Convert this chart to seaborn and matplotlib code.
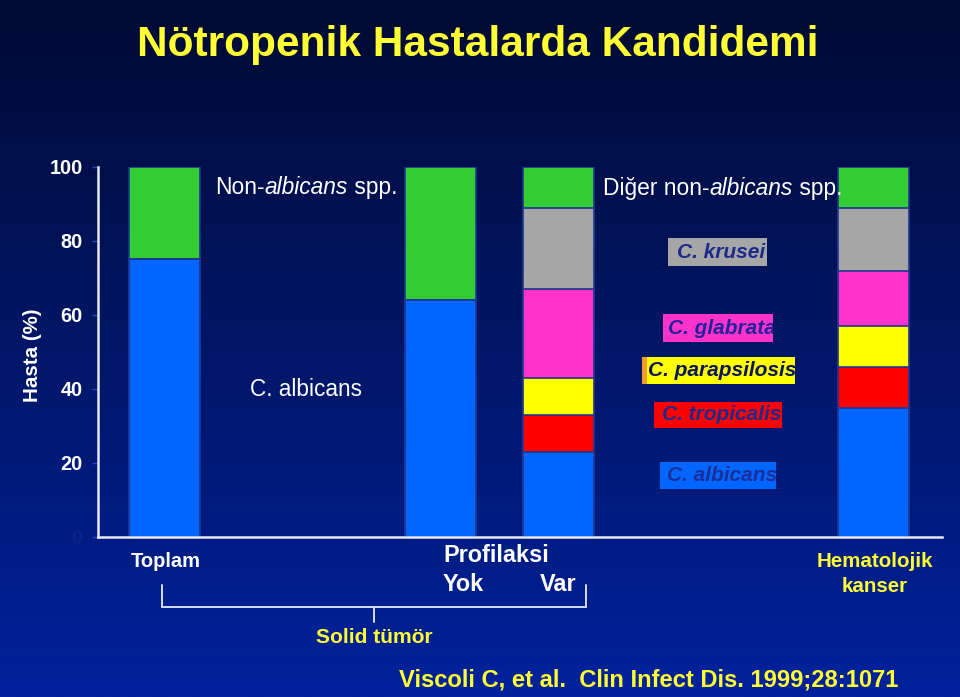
import numpy as np
import matplotlib
matplotlib.use("Agg")
import matplotlib.pyplot as plt
from matplotlib.patches import Rectangle
from matplotlib.lines import Line2D
import seaborn as sns

# ---------------- data ----------------
groups = ["Toplam", "Profilaksi yok", "Profilaksi var", "Hematolojik kanser"]
c_albicans = [75, 64, 23, 35]
c_tropicalis = [0, 0, 10, 11]
c_parapsilosis = [0, 0, 10, 11]
c_glabrata = [0, 0, 24, 15]
c_krusei = [0, 0, 22, 17]
non_albicans_other = [25, 36, 11, 11]
y_ticks = [0, 20, 40, 60, 80, 100]

# ---------------- style / layout ----------------
sns.set_theme(style="white")
plt.rcParams["font.family"] = ["Liberation Sans", "DejaVu Sans"]

W, H = 960, 697
fig = plt.figure(figsize=(9.6, 6.97), dpi=100)

def fx(x):
    return x / W

def fy(y):
    return 1 - y / H

# gradient background
bg = fig.add_axes([0, 0, 1, 1], zorder=-10)
top = np.array([0, 10, 50]) / 255
bot = np.array([0, 34, 156]) / 255
t = np.linspace(0, 1, 256)[:, None]
grad = (top[None, :] * (1 - t) + bot[None, :] * t)[:, None, :]
bg.imshow(grad, aspect="auto", extent=[0, 1, 0, 1])
bg.set_axis_off()

ax_left, ax_right, ax_top, ax_bottom = 98, 942, 167, 537
ax = fig.add_axes([fx(ax_left), fy(ax_bottom), (ax_right - ax_left) / W,
                   (ax_bottom - ax_top) / H])
ax.set_facecolor("none")

bar_pos = [164.5, 440, 558.5, 873.5]
bar_px_width = 71
min_gap = min(np.diff(sorted(bar_pos)))

layers = [
    (c_albicans, "#0066FF"),
    (c_tropicalis, "#FF0000"),
    (c_parapsilosis, "#FFFF00"),
    (c_glabrata, "#FF33CC"),
    (c_krusei, "#A6A6A6"),
    (non_albicans_other, "#33CC33"),
]
stack = np.array([l[0] for l in layers], dtype=float)
cum = np.cumsum(stack, axis=0)
for i in reversed(range(len(layers))):
    sns.barplot(x=bar_pos, y=cum[i], native_scale=True, orient="x",
                width=bar_px_width / min_gap, color=layers[i][1], saturation=1,
                edgecolor="#1c3590", linewidth=1.2, errorbar=None, ax=ax)

ax.set_xlim(ax_left, ax_right)
ax.set_ylim(0, 100)
ax.set_xticks([])
ax.set_xlabel("")
ax.set_ylabel("")
ax.set_yticks(y_ticks)
ax.set_yticklabels([str(v) for v in y_ticks], fontsize=14.3, fontweight="bold")
for lab, v in zip(ax.get_yticklabels(), y_ticks):
    lab.set_color("#0c2288" if v == 0 else "white")
ax.tick_params(axis="y", length=4, width=1, color="#2448c8", pad=7, left=True)
for s in ["top", "right"]:
    ax.spines[s].set_visible(False)
for s in ["left", "bottom"]:
    ax.spines[s].set_color("#e6e8f4")
    ax.spines[s].set_linewidth(1.8)

# ---------------- texts ----------------
yellow = "#FFFF33"
fig.text(fx(477.5), fy(56), "Nötropenik Hastalarda Kandidemi", color=yellow,
         fontsize=30.5, fontweight="bold", ha="center", va="baseline")

fig.text(fx(33), fy(355), "Hasta (%)", color="white", fontsize=14.8,
         fontweight="bold", rotation=90, ha="center", va="center")

renderer = fig.canvas.get_renderer()

def runs(x, y, pieces, **kw):
    cx = x
    for txt, style in pieces:
        t_ = fig.text(fx(cx), fy(y), txt, style=style, va="baseline", ha="left", **kw)
        bb = t_.get_window_extent(renderer)
        cx += bb.width

runs(215, 194, [("Non-", "normal"), ("albicans", "italic"), (" spp.", "normal")],
     color="white", fontsize=16.4)
runs(603, 195, [("Diğer non-", "normal"), ("albicans", "italic"), (" spp.", "normal")],
     color="white", fontsize=16.4)
fig.text(fx(250), fy(396), "C. albicans", color="white", fontsize=16.3,
         ha="left", va="baseline")

# species label boxes
boxes = [
    ("C. krusei", "#A6A6A6", "#1c2a8c", 668, 238, 767, 266, 677),
    ("C. glabrata", "#FF33CC", "#22229a", 663, 314, 773, 342, 668),
    ("C. parapsilosis", "#FFFF00", "#0b1660", 642, 357, 795, 384, 648),
    ("C. tropicalis", "#FF0000", "#1c2a8c", 654, 402, 782, 428, 662),
    ("C. albicans", "#0066FF", "#1a2f9a", 660, 462, 776, 489, 667),
]
for txt, fc, tc, x0, y0, x1, y1, tx in boxes:
    rect = Rectangle((fx(x0), fy(y1)), (x1 - x0) / W, (y1 - y0) / H,
                     transform=fig.transFigure, facecolor=fc, edgecolor="none")
    fig.add_artist(rect)
    if "parapsilosis" in txt:
        strip = Rectangle((fx(x0), fy(y1)), 5 / W, (y1 - y0) / H,
                          transform=fig.transFigure, facecolor="#F39C2A",
                          edgecolor="none")
        fig.add_artist(strip)
    tt = fig.text(fx(tx), fy(y1 - 8), txt, color=tc, fontsize=15,
                  fontweight="bold", style="italic", ha="left", va="baseline")
    tt.set_clip_path(rect)

# x-axis group labels
fig.text(fx(166), fy(567), "Toplam", color="white", fontsize=14.5,
         fontweight="bold", ha="center", va="baseline")
fig.text(fx(443), fy(562), "Profilaksi", color="white", fontsize=16.9,
         fontweight="bold", ha="left", va="baseline")
fig.text(fx(443), fy(591), "Yok", color="white", fontsize=16.9,
         fontweight="bold", ha="left", va="baseline")
fig.text(fx(540), fy(591), "Var", color="white", fontsize=16.9,
         fontweight="bold", ha="left", va="baseline")
fig.text(fx(875), fy(567), "Hematolojik", color=yellow, fontsize=14.8,
         fontweight="bold", ha="center", va="baseline")
fig.text(fx(875), fy(592), "kanser", color=yellow, fontsize=14.8,
         fontweight="bold", ha="center", va="baseline")
fig.text(fx(374.5), fy(643), "Solid tümör", color=yellow, fontsize=15.1,
         fontweight="bold", ha="center", va="baseline")
fig.text(fx(399), fy(687), "Viscoli C, et al.  Clin Infect Dis. 1999;28:1071",
         color=yellow, fontsize=17.1, fontweight="bold", ha="left", va="baseline")

# bracket
lc = "#d8dcec"
for xs, ys in [([162, 162], [585, 607]), ([162, 586], [607, 607]),
               ([586, 586], [585, 607]), ([374, 374], [607, 622])]:
    fig.add_artist(Line2D([fx(v) for v in xs], [fy(v) for v in ys],
                          transform=fig.transFigure, color=lc, linewidth=1.4))

fig.savefig("out.png", dpi=100)
